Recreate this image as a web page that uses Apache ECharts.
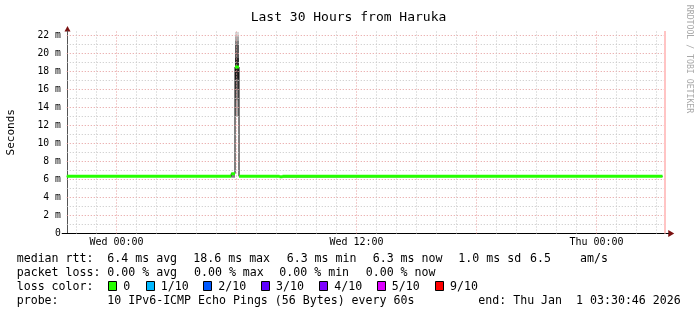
<!DOCTYPE html>
<html><head><meta charset="utf-8">
<script src="https://cdn.jsdelivr.net/npm/echarts@6/dist/echarts.min.js"></script>
<style>html,body{margin:0;padding:0;background:#fff}#c{width:697px;height:315px}</style>
</head><body><div id="c"></div>
<script>
// ---------------- data ----------------
const titleText = 'Last 30 Hours from Haruka';
const yAxisName = 'Seconds';
const watermark = 'RRDTOOL / TOBI OETIKER';
const startHour = -2.48722;   // Tue 21:30:46, hours relative to Wed 00:00
const endHour = 27.51278;     // Thu 03:30:46
const yMax = 22.5;            // ms
const yTickValues = [0, 2, 4, 6, 8, 10, 12, 14, 16, 18, 20, 22];
const yTickLabels = ['0', '2 m', '4 m', '6 m', '8 m', '10 m', '12 m', '14 m', '16 m', '18 m', '20 m', '22 m'];
const xTickHours = [0, 12, 24];
const xTickLabels = ['Wed 00:00', 'Wed 12:00', 'Thu 00:00'];
// median rtt (ms) held between consecutive edges (hours)
const medianEdges = [-2.487, 5.735, 5.925, 6.125, 8.15, 8.3, 27.3];
const medianValues = [6.35, 6.65, 18.5, 6.35, 6.3, 6.35];
// smoke: [fromHour, toHour, low ms, high ms, shade index]
const smokeStart = [5.735, 5.925, 5.925, 5.925, 5.925, 5.925];
const smokeEnd   = [5.925, 6.125, 6.125, 6.125, 6.125, 6.125];
const smokeLow   = [6.2, 13.0, 13.0, 14.8, 16.0, 17.2];
const smokeHigh  = [6.6, 22.4, 21.9, 21.4, 21.0, 19.5];
const smokeShade = [2, 0, 1, 2, 3, 4];
const nowMarkerHour = 27.4;
const lossLabels = ['0', '1/10', '2/10', '3/10', '4/10', '5/10', '9/10'];
const lossColors = ['#26ff00', '#00b8ff', '#0059ff', '#5e00ff', '#7e00ff', '#dd00ff', '#ff0000'];
const rttRow = ['median rtt:', '6.4 ms avg', '18.6 ms max', '6.3 ms min', '6.3 ms now', '1.0 ms sd', '6.5', 'am/s'];
const lossRow = ['packet loss:', '0.00 % avg', '0.00 % max', '0.00 % min', '0.00 % now'];
const lossColorLabel = 'loss color:';
const probeRow = ['probe:', '10 IPv6-ICMP Echo Pings (56 Bytes) every 60s', 'end: Thu Jan  1 03:30:46 2026'];

// ---------------- styles / layout ----------------
const MONO = '"DejaVu Sans Mono", monospace';
const smokeColors = ['#d8d8d8', '#a8a8a8', '#808080', '#5a5a5a', '#2a2a2a'];
const majorColor = '#e49a9a', minorColor = '#c4c4c4';

const smokeData = smokeStart.map((s, i) => [s, smokeEnd[i], smokeLow[i], smokeHigh[i], smokeShade[i]]);
const blackStep = medianValues.map((v, i) => [medianEdges[i], v]);
blackStep.push([medianEdges[medianEdges.length - 1], medianValues[medianValues.length - 1]]);
const greenSegs = [];
medianValues.forEach((v, i) => { greenSegs.push([medianEdges[i], v], [medianEdges[i + 1], v], [medianEdges[i + 1], null]); });

const hGrid = [];
for (let v = 1; v <= 22; v++) hGrid.push({ yAxis: v, lineStyle: { color: v % 2 === 0 ? majorColor : minorColor, type: [1, 2], width: 1 } });
const vGrid = [];
for (let h = Math.ceil(startHour); h <= Math.floor(endHour); h++) vGrid.push({ xAxis: h, lineStyle: { color: h % 6 === 0 ? majorColor : minorColor, type: [1, 2], width: 1 } });

const chart = echarts.init(document.getElementById('c'), null, { renderer: 'canvas' });
chart.setOption({
  animation: false,
  backgroundColor: '#fff',
  title: { text: titleText, left: 'center', top: 6, textStyle: { fontFamily: MONO, fontSize: 13, fontWeight: 'normal', color: '#000' } },
  grid: { left: 66.76, top: 31, width: 600, height: 202.5, containLabel: false, outerBoundsMode: 'none' },
  xAxis: {
    type: 'value', min: startHour, max: endHour,
    axisLine: { onZero: false, lineStyle: { color: '#000', width: 1 } },
    axisTick: { show: false }, axisLabel: { show: false }, splitLine: { show: false }
  },
  yAxis: {
    type: 'value', min: 0, max: yMax, interval: 2,
    name: yAxisName, nameLocation: 'middle', nameGap: 50, nameRotate: 90,
    nameTextStyle: { fontFamily: MONO, fontSize: 11, color: '#000' },
    axisLine: { show: true, onZero: false, lineStyle: { color: '#555', width: 1 } },
    axisTick: { show: false },
    axisLabel: {
      margin: 6, fontFamily: MONO, fontSize: 9.7, color: '#000', showMaxLabel: false,
      formatter: v => { const i = yTickValues.indexOf(v); return i >= 0 ? yTickLabels[i] : ''; }
    },
    splitLine: { show: false }
  },
  series: [
    { type: 'line', data: [], silent: true, z: 1,
      markLine: { silent: true, symbol: 'none', label: { show: false }, animation: false, data: hGrid.concat(vGrid) } },
    { type: 'line', data: [], silent: true, z: 1,
      markLine: { silent: true, symbol: 'none', label: { show: false }, animation: false,
        data: [{ xAxis: nowMarkerHour, lineStyle: { color: '#ffc4c4', width: 2, type: 'solid' } }] } },
    { type: 'custom', data: smokeData, encode: { x: [0, 1], y: [2, 3] }, silent: true, z: 3,
      renderItem: (params, api) => {
        const p1 = api.coord([api.value(0), api.value(3)]);
        const p2 = api.coord([api.value(1), api.value(2)]);
        return { type: 'rect', shape: { x: p1[0], y: p1[1], width: p2[0] - p1[0], height: p2[1] - p1[1] },
          style: { fill: smokeColors[api.value(4)] } };
      } },
    { type: 'line', data: blackStep, step: 'end', showSymbol: false, silent: true, z: 4,
      lineStyle: { color: '#000', width: 1 } },
    { type: 'line', data: greenSegs, showSymbol: false, silent: true, connectNulls: false, z: 5,
      lineStyle: { color: lossColors[0], width: 3, cap: 'butt' } }
  ]
});

// ---------------- decorations & legend ----------------
const g = [];
const origin = chart.convertToPixel({ gridIndex: 0 }, [startHour, 0]);
const topLeft = chart.convertToPixel({ gridIndex: 0 }, [startHour, yMax]);
const rightEnd = chart.convertToPixel({ gridIndex: 0 }, [endHour, 0]);
const ax = Math.round(origin[0]) + 0.5, ay = Math.round(origin[1]) - 0.5;
g.push({ type: 'polygon', shape: { points: [[ax, topLeft[1] - 5], [ax - 3, topLeft[1] + 0.5], [ax + 3, topLeft[1] + 0.5]] }, style: { fill: '#7a1010' } });
g.push({ type: 'polygon', shape: { points: [[rightEnd[0] + 7.5, ay], [rightEnd[0] + 1.5, ay - 3.5], [rightEnd[0] + 1.5, ay + 3.5]] }, style: { fill: '#7a1010' } });
g.push({ type: 'line', shape: { x1: origin[0] - 5, y1: ay, x2: rightEnd[0] + 2, y2: ay }, style: { stroke: '#000', lineWidth: 1 } });

xTickHours.forEach((h, i) => {
  const p = chart.convertToPixel({ gridIndex: 0 }, [h, 0]);
  g.push({ type: 'text', x: p[0], y: p[1] + 9.3, style: { text: xTickLabels[i], fontFamily: MONO, fontSize: 10, fill: '#000', align: 'center', verticalAlign: 'middle' } });
});

g.push({ type: 'text', x: 689, y: 59, rotation: -Math.PI / 2,
  style: { text: watermark, fontFamily: MONO, fontSize: 8.2, fill: '#a8a8a8', align: 'center', verticalAlign: 'middle' } });

const LEG = { fontFamily: MONO, fontSize: 11.6, fill: '#000', verticalAlign: 'middle' };
const rowY = [259.3, 273.3, 286.7, 301];
const rttX = [16.7, 107.3, 193.3, 286.7, 372.7, 458.3, 530, 580];
const lossX = [16.7, 107.3, 194, 279.3, 365.7];
const probeX = [16.7, 107.3, 478.3];
rttRow.forEach((t, i) => g.push({ type: 'text', x: rttX[i], y: rowY[0], style: Object.assign({ text: t }, LEG) }));
lossRow.forEach((t, i) => g.push({ type: 'text', x: lossX[i], y: rowY[1], style: Object.assign({ text: t }, LEG) }));
g.push({ type: 'text', x: 16.7, y: rowY[2], style: Object.assign({ text: lossColorLabel }, LEG) });
const boxX = [108.3, 145.7, 203.3, 261, 319.3, 376.7, 435];
lossLabels.forEach((t, i) => {
  g.push({ type: 'rect', shape: { x: Math.round(boxX[i]) + 0.5, y: 281.5, width: 8, height: 9 }, style: { fill: lossColors[i], stroke: '#000', lineWidth: 1 } });
  g.push({ type: 'text', x: boxX[i] + 15, y: rowY[2], style: Object.assign({ text: t }, LEG) });
});
probeRow.forEach((t, i) => g.push({ type: 'text', x: probeX[i], y: rowY[3], style: Object.assign({ text: t }, LEG) }));

chart.setOption({ graphic: g });
</script>
</body></html>
